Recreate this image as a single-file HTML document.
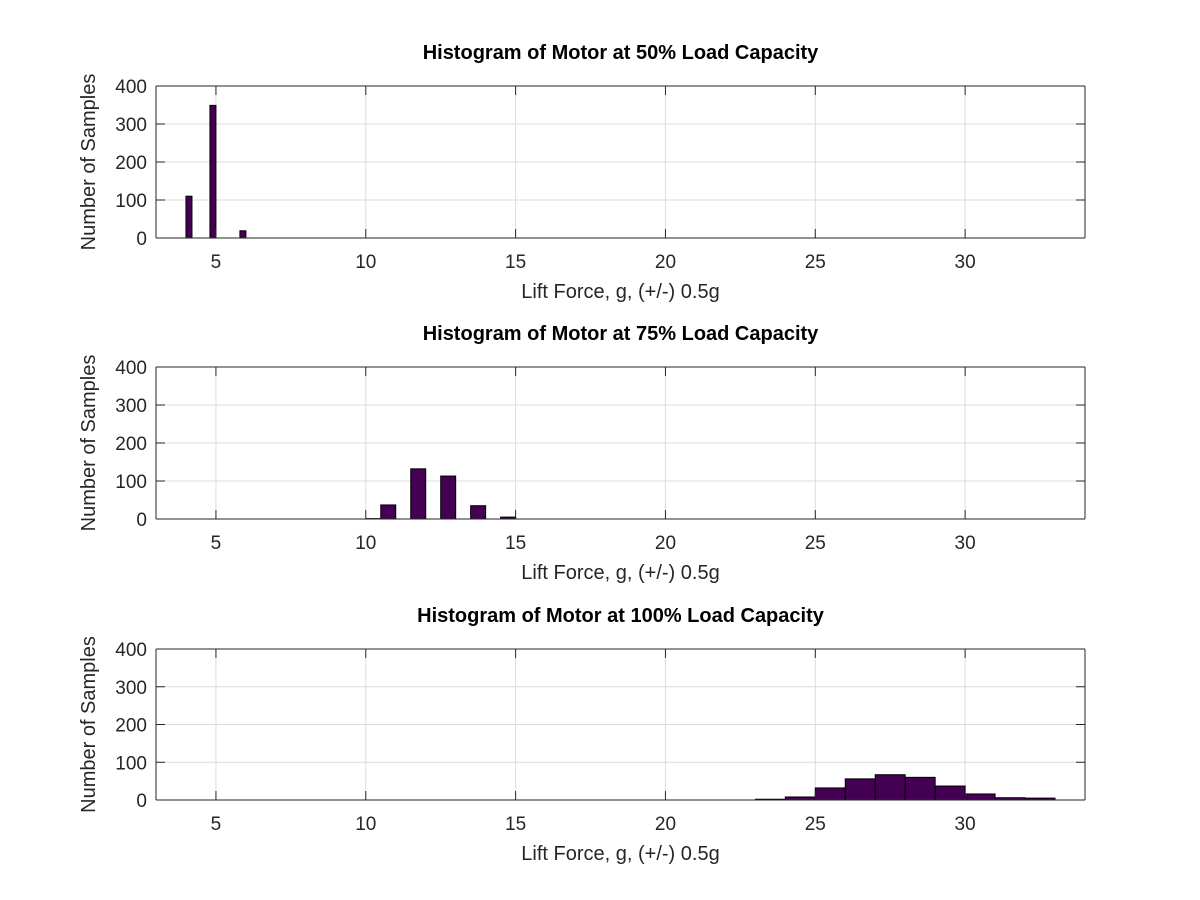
<!DOCTYPE html>
<html><head><meta charset="utf-8"><style>
html,body{margin:0;padding:0;background:#fff;}
svg{display:block;font-family:"Liberation Sans",sans-serif;}
</style></head><body>
<svg id="fig" width="1200" height="900" viewBox="0 0 1200 900"></svg>
<script>
// Data
const xTicks = [5,10,15,20,25,30];
const yTicks = [0,100,200,300,400];
const titles = ["Histogram of Motor at 50% Load Capacity","Histogram of Motor at 75% Load Capacity","Histogram of Motor at 100% Load Capacity"];
const binLeft50 = [4.0,4.8,5.8];
const binRight50 = [4.2,5.0,6.0];
const counts50 = [110,349,19];
const binLeft75 = [10.0,10.5,11.5,12.5,13.5,14.5];
const binRight75 = [10.5,11.0,12.0,13.0,14.0,15.0];
const counts75 = [1,37,132,113,35,5];
const binLeft100 = [23,24,25,26,27,28,29,30,31,32];
const binRight100 = [24,25,26,27,28,29,30,31,32,33];
const counts100 = [2,8,32,56,67,60,37,16,6,5];
const xMin = 3, xMax = 34, yMax = 400;

const NS = "http://www.w3.org/2000/svg";
const svg = document.getElementById('fig');
function mk(tag, attrs, parent){const e=document.createElementNS(NS,tag);for(const k in attrs)e.setAttribute(k,attrs[k]);(parent||svg).appendChild(e);return e;}

const L=156, R=1085;
const panels=[{top:86,bot:238,l:binLeft50,r:binRight50,c:counts50},
{top:367,bot:519,l:binLeft75,r:binRight75,c:counts75},
{top:649,bot:800,l:binLeft100,r:binRight100,c:counts100}];

panels.forEach((p,i)=>{
  const g=mk('g',{});
  
  
  const xs=v=>L+(v-xMin)/(xMax-xMin)*(R-L);
  const ys=v=>p.bot-v/yMax*(p.bot-p.top);
  xTicks.forEach(t=>{const ln=mk('line',{x1:xs(t),x2:xs(t),y1:p.top,y2:p.bot,stroke:'#dcdcdc','stroke-width':1},g);
    });
  yTicks.forEach(t=>{const ln=mk('line',{x1:L,x2:R,y1:ys(t),y2:ys(t),stroke:'#dcdcdc','stroke-width':1},g);
    });
  p.c.forEach((v,j)=>{const x0=xs(p.l[j]),x1=xs(p.r[j]);
    const b=mk('rect',{x:x0,y:ys(v),width:x1-x0,height:p.bot-ys(v),fill:'#440154',stroke:'#000','stroke-width':1},g);
    });
  mk('line',{x1:L,x2:R,y1:p.top,y2:p.top,stroke:'#262626','stroke-width':1},g);
  mk('line',{x1:R,x2:R,y1:p.top,y2:p.bot,stroke:'#262626','stroke-width':1},g);
  mk('line',{x1:L,x2:R,y1:p.bot,y2:p.bot,stroke:'#262626','stroke-width':1},g);
  mk('line',{x1:L,x2:L,y1:p.top,y2:p.bot,stroke:'#262626','stroke-width':1},g);
  xTicks.forEach(t=>{mk('line',{x1:xs(t),x2:xs(t),y1:p.bot,y2:p.bot-9,stroke:'#262626'},g);
    mk('line',{x1:xs(t),x2:xs(t),y1:p.top,y2:p.top+9,stroke:'#262626'},g);
    const tx=mk('text',{x:xs(t),y:p.bot+30,'text-anchor':'middle','font-size':19,fill:'#262626'},g);tx.textContent=t;
    });
  yTicks.forEach(t=>{mk('line',{x1:L,x2:L+9,y1:ys(t),y2:ys(t),stroke:'#262626'},g);
    mk('line',{x1:R,x2:R-9,y1:ys(t),y2:ys(t),stroke:'#262626'},g);
    const tx=mk('text',{x:L-9,y:ys(t)+7,'text-anchor':'end','font-size':19,fill:'#262626'},g);tx.textContent=t;
    });
  const tt=mk('text',{x:(L+R)/2,y:p.top-27,'text-anchor':'middle','font-size':20,'font-weight':'bold',fill:'#000'},g);
  tt.textContent=titles[i];
  
  const xl=mk('text',{x:(L+R)/2,y:p.bot+60,'text-anchor':'middle','font-size':20,fill:'#262626'},g);
  xl.textContent='Lift Force, g, (+/-) 0.5g';
  
  const cy=(p.top+p.bot)/2;
  const yl=mk('text',{x:95,y:cy,'text-anchor':'middle','font-size':20,fill:'#262626',transform:'rotate(-90 95 '+cy+')'},g);
  yl.textContent='Number of Samples';
  
});
</script>
</body></html>
